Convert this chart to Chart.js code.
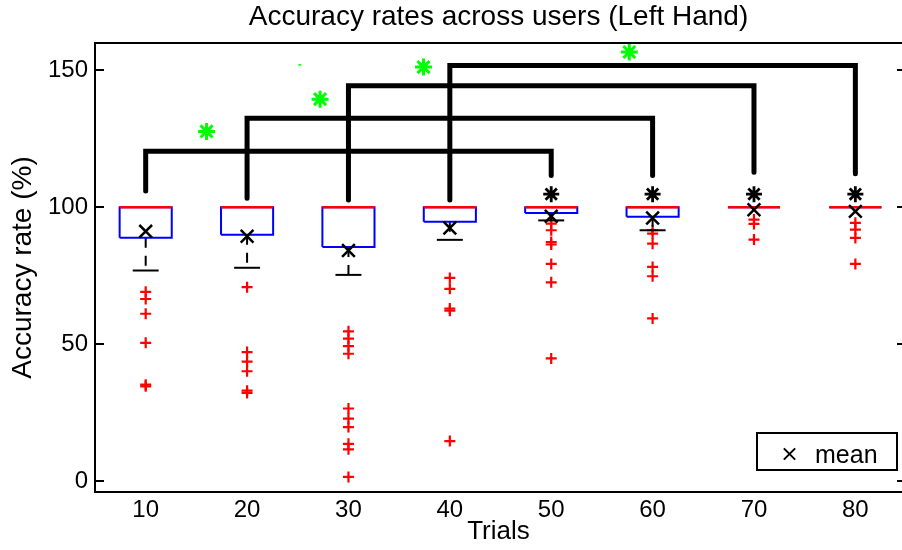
<!DOCTYPE html>
<html>
<head>
<meta charset="utf-8">
<script src="https://cdn.jsdelivr.net/npm/chart.js@4.4.1/dist/chart.umd.min.js"></script>
<style>
  html, body { margin: 0; padding: 0; background: #ffffff; }
  #wrap { width: 902px; height: 550px; }
</style>
</head>
<body>
<div id="wrap"><canvas id="c" width="902" height="550"></canvas></div>
<script>
// Box statistics per number of trials
const trials = [10, 20, 30, 40, 50, 60, 70, 80];
const lowerQuartile = [88.9, 90.0, 85.5, 94.7, 97.9, 96.5, 100, 100];
const upperQuartile = [100, 100, 100, 100, 100, 100, 100, 100];
const medians = [100, 100, 100, 100, 100, 100, 100, 100];
const lowerWhisker = [76.9, 77.9, 75.3, 88.1, 95.2, 91.6, 100, 100];
const means = [91.2, 89.4, 84.2, 92.4, 96.7, 96.1, 99.1, 98.5];
const outliers = [
  [69.1, 66.5, 61.1, 50.5, 35.2, 34.6],
  [70.8, 47.1, 43.6, 40.1, 33.0, 32.2],
  [54.7, 52.0, 49.3, 46.5, 26.5, 22.8, 19.7, 13.6, 11.6, 1.5],
  [74.2, 70.2, 63.0, 62.2, 14.6],
  [94.0, 91.6, 87.3, 86.4, 79.3, 72.6, 44.8],
  [91.6, 90.4, 86.7, 78.2, 74.8, 59.4],
  [95.5, 93.9, 88.2],
  [94.3, 91.8, 88.8, 79.3]
];

// Significance brackets between trial groups
const pairFrom = [10, 20, 30, 40];
const pairTo = [50, 60, 70, 80];
const bracketLevel = [120.5, 132.5, 144.4, 151.8];
const bracketFromEnd = [105.9, 103.3, 102.7, 102.7];
const bracketToEnd = [111.6, 111.6, 112.8, 112.2];
const pairMarkLevel = [104.8, 104.8, 104.8, 104.8];

// Green significance stars
const starX = [16.0, 27.2, 37.4, 57.7];
const starY = [127.7, 139.5, 151.2, 156.7];
const strayX = [25.2];
const strayY = [152.0];

const yTicks = [0, 50, 100, 150];

const FONT = '"Liberation Sans", Arial, Helvetica, sans-serif';
const BOX_HALF = 2.57;
const CAP_HALF = 1.28;

function seg(points, color, width, extra) {
  return Object.assign({
    data: points,
    showLine: true,
    borderColor: color,
    borderWidth: width,
    pointRadius: 0,
    pointHoverRadius: 0,
    fill: false,
    tension: 0
  }, extra || {});
}

const datasets = [];

trials.forEach((t, i) => {
  const lo = lowerQuartile[i], hi = upperQuartile[i];
  datasets.push(seg([
    { x: t - BOX_HALF, y: lo }, { x: t + BOX_HALF, y: lo },
    { x: t + BOX_HALF, y: hi }, { x: t - BOX_HALF, y: hi },
    { x: t - BOX_HALF, y: lo }
  ], '#0000ff', 2, { order: 4 }));
  datasets.push(seg([
    { x: t - BOX_HALF, y: medians[i] }, { x: t + BOX_HALF, y: medians[i] }
  ], '#ff0000', 2.5, { order: 3 }));
  if (lowerWhisker[i] < lo) {
    datasets.push(seg([
      { x: t, y: lo }, { x: t, y: lowerWhisker[i] }
    ], '#000000', 2, { borderDash: [10, 8], order: 4 }));
    datasets.push(seg([
      { x: t - CAP_HALF, y: lowerWhisker[i] }, { x: t + CAP_HALF, y: lowerWhisker[i] }
    ], '#000000', 2, { order: 4 }));
  }
});

pairFrom.forEach((a, i) => {
  const b = pairTo[i];
  datasets.push(seg([
    { x: a, y: bracketFromEnd[i] }, { x: a, y: bracketLevel[i] },
    { x: b, y: bracketLevel[i] }, { x: b, y: bracketToEnd[i] }
  ], '#000000', 5, { borderCapStyle: 'round', borderJoinStyle: 'miter', order: 2 }));
});

function markers(points, style, radius, width, color, order) {
  return {
    data: points,
    showLine: false,
    pointStyle: style,
    pointRadius: radius,
    pointHoverRadius: radius,
    pointBorderWidth: width,
    pointBorderColor: color,
    pointBackgroundColor: color,
    order: order
  };
}

datasets.push(markers(
  trials.flatMap((t, i) => outliers[i].map(v => ({ x: t, y: v }))),
  'cross', 5.5, 2.2, '#ff0000', 6));
datasets.push(markers(
  trials.map((t, i) => ({ x: t, y: means[i] })),
  'crossRot', 9, 2.5, '#000000', 1));
datasets.push(markers(
  pairTo.map((t, i) => ({ x: t, y: pairMarkLevel[i] })),
  'star', 8, 2.8, '#000000', 1));
datasets.push(markers(
  starX.map((x, i) => ({ x: x, y: starY[i] })),
  'star', 8.5, 3, '#00ff00', 1));
datasets.push(markers(
  strayX.map((x, i) => ({ x: x, y: strayY[i] })),
  'line', 1.5, 1.5, '#00ff00', 1));

// Frame, inward tick marks and the mean legend
const framePlugin = {
  id: 'frame',
  afterDraw(chart) {
    const { ctx, chartArea, scales } = chart;
    ctx.save();
    ctx.strokeStyle = '#000000';
    ctx.lineWidth = 2;
    ctx.beginPath();
    ctx.moveTo(chartArea.left, chartArea.top);
    ctx.lineTo(chartArea.right, chartArea.top);
    yTicks.forEach(v => {
      const y = Math.round(scales.y.getPixelForValue(v));
      ctx.moveTo(chartArea.left, y);
      ctx.lineTo(chartArea.left + 9, y);
      ctx.moveTo(chartArea.right - 5, y);
      ctx.lineTo(chartArea.right, y);
    });
    ctx.stroke();

    // legend box
    ctx.lineWidth = 2;
    ctx.strokeRect(757, 433, 140, 37);
    Chart.helpers.drawPoint(ctx, {
      pointStyle: 'crossRot', radius: 8, borderWidth: 1.6, rotation: 0
    }, 789.5, 454);
    ctx.fillStyle = '#000000';
    ctx.font = '25px ' + FONT;
    ctx.textAlign = 'left';
    ctx.textBaseline = 'alphabetic';
    ctx.fillText('mean', 815, 463);
    ctx.restore();
  }
};

Chart.defaults.color = '#000000';
Chart.defaults.font.family = FONT;

new Chart(document.getElementById('c'), {
  type: 'scatter',
  data: { datasets: datasets },
  options: {
    responsive: false,
    animation: false,
    devicePixelRatio: 1,
    layout: { padding: 0, autoPadding: false },
    events: [],
    plugins: {
      legend: { display: false },
      tooltip: { enabled: false },
      title: {
        display: true,
        text: 'Accuracy rates across users (Left Hand)',
        fullSize: false,
        color: '#000000',
        font: { size: 28, weight: 'normal', family: FONT },
        padding: { top: 0, bottom: 9.4 }
      }
    },
    scales: {
      x: {
        type: 'linear',
        min: 5.0,
        max: 84.6,
        afterBuildTicks(scale) { scale.ticks = trials.map(v => ({ value: v })); },
        afterFit(scale) {
          scale.height = 58;
          scale.paddingLeft = 0;
          scale.paddingRight = 0;
        },
        grid: { display: false, drawTicks: false },
        border: { display: true, color: '#000000', width: 2 },
        ticks: {
          color: '#000000',
          font: { size: 24, family: FONT },
          padding: 4,
          maxRotation: 0,
          autoSkip: false
        },
        title: {
          display: true,
          text: 'Trials',
          color: '#000000',
          font: { size: 26, family: FONT },
          padding: { top: 0, bottom: 3 }
        }
      },
      y: {
        type: 'linear',
        min: -4,
        max: 160,
        afterBuildTicks(scale) { scale.ticks = yTicks.map(v => ({ value: v })); },
        afterFit(scale) {
          scale.width = 95;
          scale.paddingTop = 0;
          scale.paddingBottom = 0;
        },
        grid: { display: false, drawTicks: false },
        border: { display: true, color: '#000000', width: 2 },
        ticks: {
          color: '#000000',
          font: { size: 24, family: FONT },
          padding: 7
        },
        title: {
          display: true,
          text: 'Accuracy rate (%)',
          color: '#000000',
          font: { size: 28, family: FONT },
          padding: { top: 6, bottom: 0 }
        }
      }
    }
  },
  plugins: [framePlugin]
});
</script>
</body>
</html>
